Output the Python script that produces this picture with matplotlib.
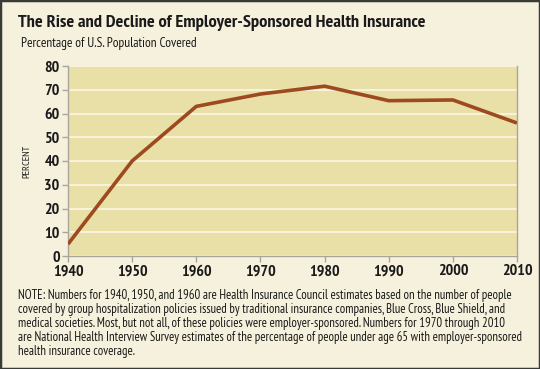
import matplotlib
matplotlib.use("Agg")
import matplotlib.pyplot as plt
from matplotlib.patches import Rectangle

years = [1940, 1950, 1960, 1970, 1980, 1990, 2000, 2010]
percent = [5, 40, 63, 68.2, 71.5, 65.4, 65.7, 56]
yticks = [0, 10, 20, 30, 40, 50, 60, 70, 80]

title = "The Rise and Decline of Employer-Sponsored Health Insurance"
subtitle = "Percentage of U.S. Population Covered"
note = ("NOTE: Numbers for 1940, 1950, and 1960 are Health Insurance Council estimates based on the number of people\n"
        "covered by group hospitalization policies issued by traditional insurance companies, Blue Cross, Blue Shield, and\n"
        "medical societies. Most, but not all, of these policies were employer-sponsored. Numbers for 1970 through 2010\n"
        "are National Health Interview Survey estimates of the percentage of people under age 65 with employer-sponsored\n"
        "health insurance coverage.")

W, H = 540, 369
fam = ['PT Sans Narrow', 'DejaVu Sans']
fig = plt.figure(figsize=(W/100, H/100), dpi=100)
fig.patch.set_facecolor('#F6F1DC')
fig.patches.append(Rectangle((0, 0), 1, 1, transform=fig.transFigure, fill=False,
                             edgecolor='#3a3a36', linewidth=2.5, zorder=10))

ax = fig.add_axes([68/W, 1-256/H, (517-68)/W, (256-66)/H])
ax.set_facecolor('#E9E0A8')
ax.plot(years, percent, color='#9E4A1F', linewidth=2.6, solid_capstyle='butt', zorder=3)
ax.set_xlim(1940, 2010)
ax.set_ylim(0, 80)
ax.set_yticks(yticks)
ax.set_xticks(years)
ax.grid(axis='y', color='#FBF6E4', linewidth=1.2)
ax.set_axisbelow(True)
for s in ['left', 'bottom', 'right']:
    ax.spines[s].set_color('#A8A59A')
    ax.spines[s].set_linewidth(1)
ax.spines['top'].set_visible(False)
ax.tick_params(axis='both', color='#A8A59A', length=4, width=1, pad=2,
               labelsize=11.5, labelcolor='#1a1a1a')
for lab in ax.get_xticklabels() + ax.get_yticklabels():
    lab.set_fontfamily(fam)
    lab.set_fontweight('bold')
ax.set_ylabel('PERCENT', fontsize=7.5, family=fam, color='#222222', labelpad=9)

fig.text(18/W, 1-27/H, title, fontsize=13.2, fontweight='bold', family=fam,
         color='#1a1a1a', va='baseline')
fig.text(21/W, 1-47/H, subtitle, fontsize=9.6, family=fam, color='#1a1a1a', va='baseline')
fig.text(18/W, 1-289/H, note, fontsize=9.1, family=fam, color='#1a1a1a', va='top',
         linespacing=1.1)

fig.savefig('out.png', dpi=100, facecolor=fig.get_facecolor())
